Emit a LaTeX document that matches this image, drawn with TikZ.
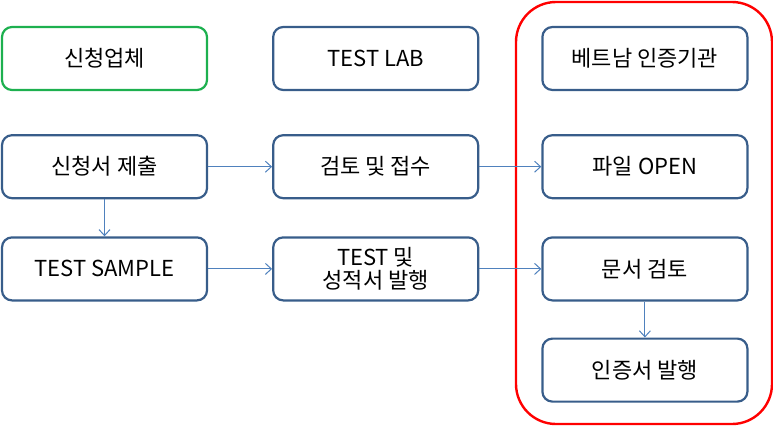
\documentclass[tikz,border=0pt]{standalone}
\usepackage{fontspec}
\setmainfont{Noto Sans CJK KR}
\usetikzlibrary{arrows.meta}
\usetikzlibrary{positioning}
\usetikzlibrary{fit}

\definecolor{boxblue}{HTML}{385D8A}
\definecolor{arrowblue}{HTML}{4F81BD}
\definecolor{boxgreen}{HTML}{1DB04F}

\begin{document}
\begin{tikzpicture}[
        x=1pt, y=-1pt,
        node distance=40pt and 64pt,
        every node/.style={font=\fontsize{22}{26}\selectfont},
        box/.style={draw=boxblue, line width=2.2pt, rounded corners=10pt, minimum width=205pt, minimum height=63pt, align=center},
        greenbox/.style={box, draw=boxgreen},
        arrow/.style={-{Straight Barb[length=6pt, width=11pt]}, draw=arrowblue, line width=1pt},
        frame/.style={draw=red, line width=2.4pt, rounded corners=40pt, inner sep=0pt}
    ]
    \useasboundingbox (0,0) rectangle (773,426);

    % Nodes
    \node[greenbox] (company) at (104.5,58.5) {신청업체};
    \node[box, right=64pt of company] (lab) {TEST LAB};
    \node[box, right=62pt of lab] (agency) {베트남 인증기관};
    \node[box, below=43pt of company] (apply) {신청서 제출};
    \node[box, below=43pt of lab] (review) {검토 및 접수};
    \node[box, below=43pt of agency] (fileopen) {파일 OPEN};
    \node[box, below=37pt of apply] (sample) {TEST SAMPLE};
    \node[box, below=37pt of review] (report) {TEST 및\\[-3pt]성적서 발행};
    \node[box, below=37pt of fileopen] (docreview) {문서 검토};
    \node[box, below=36pt of docreview] (certissue) {인증서 발행};

    % Frame
    \node[frame, fit={(516,2) (772,424)}] (vnframe) {};

    % Arrows
    \draw[arrow] (apply) -- (review);
    \draw[arrow] (review) -- (fileopen);
    \draw[arrow] (apply) -- (sample);
    \draw[arrow] (sample) -- (report);
    \draw[arrow] (report) -- (docreview);
    \draw[arrow] (docreview) -- (certissue);

\end{tikzpicture}
\end{document}
